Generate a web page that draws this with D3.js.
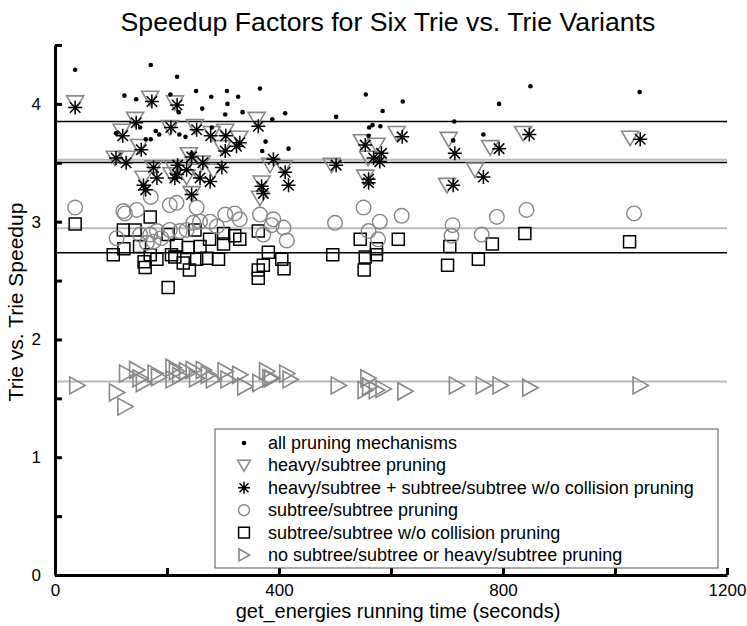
<!DOCTYPE html>
<html>
<head>
<meta charset="utf-8">
<script src="https://cdn.jsdelivr.net/npm/d3@7"></script>
<style>
  body { margin: 0; background: #fff; }
  svg { display: block; font-family: Arial, "Liberation Sans", sans-serif; }
</style>
</head>
<body>
<div id="chart"></div>
<script>

// ---- data ----
var allPruning = [
  [36, 4.29], [171, 4.33], [218, 4.23], [124, 4.07], [145, 4.04], [206, 4.08], [252, 4.11],
  [279, 4.06], [307, 4.11], [308, 4.00], [327, 4.06], [263, 3.96], [304, 3.91], [335, 3.93],
  [366, 4.13], [221, 3.93], [388, 3.87], [109, 3.75], [152, 3.80], [180, 3.77], [186, 3.74],
  [162, 3.70], [171, 3.70], [222, 3.74], [233, 3.72], [280, 3.80], [376, 3.68], [370, 3.60],
  [244, 3.58], [411, 3.92], [502, 3.89], [555, 4.08], [585, 3.94], [621, 4.02], [567, 3.82],
  [561, 3.80], [581, 3.81], [560, 3.73], [713, 3.85], [417, 3.62], [711, 3.69], [793, 4.00],
  [849, 4.15], [1044, 4.10], [765, 3.74]
];

var heavySubtree = [
  [36, 4.01], [170, 4.05], [214, 4.01], [143, 3.87], [119, 3.77], [150, 3.64], [205, 3.80],
  [250, 3.81], [280, 3.75], [304, 3.77], [329, 3.71], [299, 3.63], [360, 3.87], [107, 3.54],
  [128, 3.54], [239, 3.57], [262, 3.50], [176, 3.46], [211, 3.46], [158, 3.37], [208, 3.40],
  [235, 3.38], [253, 3.43], [283, 3.43], [244, 3.24], [369, 3.33], [366, 3.20], [384, 3.48],
  [408, 3.46], [494, 3.48], [548, 3.68], [574, 3.65], [559, 3.54], [554, 3.38], [610, 3.75],
  [703, 3.70], [700, 3.31], [750, 3.44], [777, 3.63], [836, 3.75], [1027, 3.71]
];

var heavyPlusNoCollision = [
  [36, 3.97], [173, 4.02], [218, 3.99], [145, 3.84], [121, 3.73], [154, 3.61], [207, 3.80],
  [253, 3.78], [278, 3.73], [305, 3.73], [330, 3.67], [324, 3.64], [304, 3.60], [363, 3.81],
  [109, 3.54], [127, 3.50], [244, 3.55], [264, 3.50], [176, 3.46], [219, 3.48], [218, 3.40],
  [182, 3.37], [158, 3.31], [162, 3.27], [214, 3.37], [235, 3.44], [259, 3.37], [277, 3.34],
  [298, 3.46], [244, 3.23], [369, 3.30], [372, 3.24], [390, 3.53], [411, 3.42], [417, 3.31],
  [502, 3.48], [554, 3.65], [583, 3.58], [569, 3.54], [580, 3.51], [560, 3.36], [560, 3.33],
  [620, 3.72], [714, 3.58], [711, 3.31], [765, 3.38], [793, 3.62], [847, 3.74], [1045, 3.70]
];

var subtreeSubtree = [
  [36, 3.12], [122, 3.09], [125, 3.07], [146, 3.10], [171, 3.21], [205, 3.14], [217, 3.16],
  [253, 3.12], [110, 2.86], [152, 2.89], [170, 2.89], [182, 2.92], [164, 2.82], [176, 2.83],
  [205, 2.93], [223, 2.92], [235, 2.93], [247, 2.99], [259, 3.00], [277, 3.00], [289, 2.96],
  [304, 3.06], [321, 3.07], [330, 3.02], [366, 3.06], [390, 3.02], [190, 2.86], [387, 2.97],
  [408, 2.95], [414, 2.84], [372, 2.89], [500, 2.99], [551, 3.12], [580, 3.00], [560, 2.92],
  [577, 2.85], [619, 3.05], [710, 2.97], [708, 2.88], [789, 3.04], [842, 3.10], [762, 2.89],
  [1034, 3.07]
];

var subtreeNoCollision = [
  [36, 2.98], [170, 3.04], [122, 2.93], [143, 2.93], [104, 2.72], [123, 2.77], [151, 2.79],
  [170, 2.72], [159, 2.66], [161, 2.61], [182, 2.68], [202, 2.89], [217, 2.80], [208, 2.72],
  [214, 2.70], [229, 2.65], [240, 2.59], [238, 2.78], [250, 2.93], [259, 2.79], [253, 2.68],
  [271, 2.69], [292, 2.68], [276, 2.85], [301, 2.90], [301, 2.81], [321, 2.88], [330, 2.85],
  [363, 2.92], [381, 2.74], [372, 2.63], [363, 2.59], [363, 2.52], [202, 2.44], [405, 2.68],
  [409, 2.60], [496, 2.72], [545, 2.85], [554, 2.70], [574, 2.72], [574, 2.77], [552, 2.59],
  [613, 2.85], [705, 2.79], [701, 2.63], [756, 2.68], [781, 2.81], [839, 2.90], [1026, 2.83]
];

var noPruning = [
  [39, 1.61], [110, 1.55], [125, 1.43], [128, 1.71], [146, 1.74], [152, 1.67], [158, 1.63],
  [179, 1.71], [185, 1.68], [211, 1.76], [217, 1.73], [223, 1.69], [211, 1.66], [235, 1.73],
  [247, 1.74], [253, 1.67], [265, 1.74], [274, 1.70], [283, 1.66], [304, 1.73], [309, 1.66],
  [330, 1.70], [339, 1.60], [366, 1.63], [378, 1.73], [384, 1.67], [387, 1.67], [414, 1.71],
  [420, 1.66], [506, 1.61], [559, 1.67], [562, 1.60], [574, 1.57], [586, 1.58], [625, 1.56],
  [554, 1.57], [717, 1.61], [765, 1.61], [795, 1.61], [848, 1.59], [1045, 1.61]
];

// mean lines, one per series
var meanValues = [3.85, 3.525, 3.503, 2.945, 2.736, 1.642];
var meanColors = ["#000", "#bbb", "#000", "#bbb", "#000", "#bbb"];

var legendLabels = [
  "all pruning mechanisms",
  "heavy/subtree pruning",
  "heavy/subtree + subtree/subtree w/o collision pruning",
  "subtree/subtree pruning",
  "subtree/subtree w/o collision pruning",
  "no subtree/subtree or heavy/subtree pruning"
];

var xTicks = [0, 200, 400, 600, 800, 1000, 1200];
var xLabels = [0, 400, 800, 1200];
var yTicks = [0, 0.5, 1, 1.5, 2, 2.5, 3, 3.5, 4, 4.5];

// ---- custom symbol shapes ----
var symbolTriDown = {
  draw: function (ctx, size) {
    var s = Math.sqrt(size);
    ctx.moveTo(-s / 2, -s * 0.4);
    ctx.lineTo(s / 2, -s * 0.4);
    ctx.lineTo(0, s * 0.45);
    ctx.closePath();
  }
};

var symbolTriRight = {
  draw: function (ctx, size) {
    var s = Math.sqrt(size);
    ctx.moveTo(-s * 0.42, -s / 2);
    ctx.lineTo(s * 0.48, 0);
    ctx.lineTo(-s * 0.42, s / 2);
    ctx.closePath();
  }
};

var symbolStar = {
  draw: function (ctx, size) {
    var r = Math.sqrt(size) / 2;
    var d = r * 0.75;
    ctx.moveTo(-r, 0); ctx.lineTo(r, 0);
    ctx.moveTo(0, -r); ctx.lineTo(0, r);
    ctx.moveTo(-d, -d); ctx.lineTo(d, d);
    ctx.moveTo(-d, d); ctx.lineTo(d, -d);
  }
};

var W = 747, H = 626;

var x = d3.scaleLinear().domain([0, 1200]).range([55, 727]);
var y = d3.scaleLinear().domain([0, 4.5]).range([575, 45]);

var svg = d3.select("#chart")
  .append("svg")
  .attr("width", W)
  .attr("height", H);

// title
svg.append("text")
  .attr("x", 388)
  .attr("y", 31)
  .attr("text-anchor", "middle")
  .attr("font-size", "26.7px")
  .attr("fill", "#000")
  .text("Speedup Factors for Six Trie vs. Trie Variants");

// mean lines
svg.append("g")
  .selectAll("line")
  .data(meanValues)
  .enter()
  .append("line")
  .attr("x1", x(0))
  .attr("x2", x(1200))
  .attr("y1", function (d) { return y(d); })
  .attr("y2", function (d) { return y(d); })
  .attr("stroke", function (d, i) { return meanColors[i]; })
  .attr("stroke-width", function (d, i) { return meanColors[i] == "#000" ? 1.5 : 2; });

// series definitions
var series = [
  { data: noPruning, type: symbolTriRight, size: 17 * 17, stroke: "#888", fill: "none", width: 1.6 },
  { data: subtreeNoCollision, type: d3.symbolSquare, size: 12 * 12, stroke: "#000", fill: "none", width: 1.5 },
  { data: subtreeSubtree, type: d3.symbolCircle, size: Math.PI * 7.3 * 7.3, stroke: "#888", fill: "none", width: 1.4 },
  { data: heavySubtree, type: symbolTriDown, size: 17 * 17, stroke: "#888", fill: "none", width: 1.6 },
  { data: heavyPlusNoCollision, type: symbolStar, size: 14 * 14, stroke: "#000", fill: "none", width: 1.5 },
  { data: allPruning, type: d3.symbolCircle, size: Math.PI * 2.3 * 2.3, stroke: "none", fill: "#000", width: 0 }
];

series.forEach(function (s) {
  var sym = d3.symbol().type(s.type).size(s.size);
  svg.append("g")
    .selectAll("path")
    .data(s.data)
    .enter()
    .append("path")
    .attr("transform", function (d) { return "translate(" + x(d[0]) + "," + y(d[1]) + ")"; })
    .attr("d", sym)
    .attr("fill", s.fill)
    .attr("stroke", s.stroke)
    .attr("stroke-width", s.width);
});

// y axis
var yAxis = svg.append("g")
  .attr("transform", "translate(" + x(0) + ",0)")
  .call(d3.axisLeft(y)
    .tickValues(yTicks)
    .tickSize(-7)
    .tickSizeOuter(0)
    .tickPadding(14)
    .tickFormat(function (d) { return Number.isInteger(d) ? d : ""; }));

// x axis
var xAxis = svg.append("g")
  .attr("transform", "translate(0," + y(0) + ")")
  .call(d3.axisBottom(x)
    .tickValues(xTicks)
    .tickSize(-7)
    .tickSizeOuter(0)
    .tickPadding(9)
    .tickFormat(function (d) { return xLabels.indexOf(d) >= 0 ? d : ""; }));

[yAxis, xAxis].forEach(function (a) {
  a.select(".domain").attr("stroke", "#000").attr("stroke-width", 3);
  a.selectAll(".tick line").attr("stroke", "#000").attr("stroke-width", 3);
  a.selectAll(".tick text")
    .attr("font-size", "17px")
    .attr("font-family", "Arial, 'Liberation Sans', sans-serif")
    .attr("fill", "#000");
});

// axis titles
svg.append("text")
  .attr("x", 398)
  .attr("y", 618)
  .attr("text-anchor", "middle")
  .attr("font-size", "20px")
  .text("get_energies running time (seconds)");

svg.append("text")
  .attr("transform", "translate(23,302) rotate(-90)")
  .attr("text-anchor", "middle")
  .attr("font-size", "21px")
  .text("Trie vs. Trie Speedup");

// legend
var legend = svg.append("g");

legend.append("rect")
  .attr("x", 215)
  .attr("y", 429)
  .attr("width", 503)
  .attr("height", 139)
  .attr("fill", "#fff")
  .attr("stroke", "#555")
  .attr("stroke-width", 1);

var legendSeries = [series[5], series[3], series[4], series[2], series[1], series[0]];
var legendScale = [1, 0.75, 0.85, 0.75, 0.9, 0.7];

var rows = legend.selectAll("g.row")
  .data(legendLabels)
  .enter()
  .append("g")
  .attr("class", "row")
  .attr("transform", function (d, i) { return "translate(0," + (443 + i * 22.4) + ")"; });

rows.append("path")
  .attr("transform", "translate(244,0)")
  .attr("d", function (d, i) {
    var s = legendSeries[i];
    return d3.symbol().type(s.type).size(s.size * legendScale[i] * legendScale[i])();
  })
  .attr("fill", function (d, i) { return legendSeries[i].fill; })
  .attr("stroke", function (d, i) { return legendSeries[i].stroke; })
  .attr("stroke-width", function (d, i) { return legendSeries[i].width; });

rows.append("text")
  .attr("x", 268)
  .attr("y", 6)
  .attr("font-size", "18px")
  .text(function (d) { return d; });

</script>
</body>
</html>
